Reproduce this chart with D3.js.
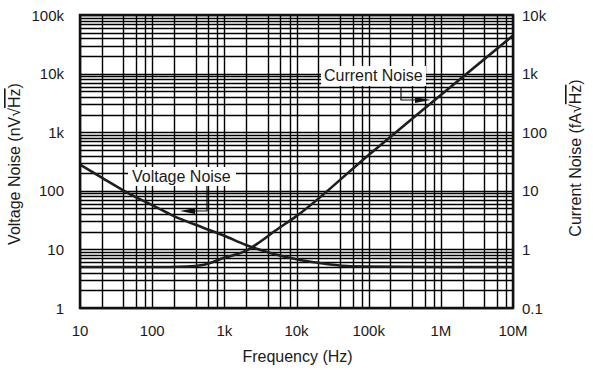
<!DOCTYPE html>
<html lang="en">
<head>
<meta charset="utf-8">
<title>Noise vs Frequency</title>
<script src="https://cdn.jsdelivr.net/npm/d3@7/dist/d3.min.js"></script>
<style>
  body { margin: 0; background: #fff; }
  text { font-family: "Liberation Sans", Arial, sans-serif; fill: #1a1a1a; }
  .grid line { stroke: #000; stroke-width: 1.4; }
  .tick-label { font-size: 15px; }
  .title { font-size: 16px; }
  .note { font-size: 16px; }
</style>
</head>
<body>
<script>
// frequencies (Hz) and values
var vFreq = [10, 20, 50, 100, 200, 500, 1e3, 2e3, 5e3, 1e4, 2e4, 5e4, 1e5, 1e6, 1e7];
var voltageNoise = [280, 168, 87, 57, 37, 23.7, 17.1, 11.9, 8.3, 6.8, 5.9, 5.2, 5.1, 5, 5]; // nV/rtHz
var iFreq = [10, 100, 300, 500, 1e3, 2e3, 3e3, 5e3, 1e4, 1e5, 1e6, 1e7];
var currentNoise = [0.5, 0.5, 0.51, 0.54, 0.72, 0.95, 1.3, 2.06, 3.7, 41, 430, 4460]; // fA/rtHz

var xTicks = [10, 100, 1e3, 1e4, 1e5, 1e6, 1e7];
var xTickLabels = ["10", "100", "1k", "10k", "100k", "1M", "10M"];
var yLeftTicks = [1, 10, 100, 1e3, 1e4, 1e5];
var yLeftLabels = ["1", "10", "100", "1k", "10k", "100k"];
var yRightTicks = [0.1, 1, 10, 100, 1e3, 1e4];
var yRightLabels = ["0.1", "1", "10", "100", "1k", "10k"];

var w = 593, h = 370;
var pLeft = 80, pRight = 513, pTop = 15, pBottom = 308;

var x = d3.scaleLog().domain([10, 1e7]).range([pLeft, pRight]);
var yL = d3.scaleLog().domain([1, 1e5]).range([pBottom, pTop]);
var yR = d3.scaleLog().domain([0.1, 1e4]).range([pBottom, pTop]);

var svg = d3.select("body").append("svg")
  .attr("width", w)
  .attr("height", h);

// grid: verticals at 1,2,4,6,8 per decade, horizontals at 1..9
var xGrid = [];
xTicks.forEach(function(d) {
  [1, 2, 4, 6, 8].forEach(function(m) { if (d * m <= 1e7) xGrid.push(d * m); });
});
var yGrid = [];
yLeftTicks.forEach(function(d) {
  for (var m = 1; m <= 9; m++) if (d * m <= 1e5) yGrid.push(d * m);
});

var grid = svg.append("g").attr("class", "grid");
grid.selectAll(".vx").data(xGrid).enter().append("line")
  .attr("x1", function(d) { return Math.round(x(d)) + 0.5; })
  .attr("x2", function(d) { return Math.round(x(d)) + 0.5; })
  .attr("y1", pTop).attr("y2", pBottom);
grid.selectAll(".hy").data(yGrid).enter().append("line")
  .attr("y1", function(d) { return Math.round(yL(d)) + 0.5; })
  .attr("y2", function(d) { return Math.round(yL(d)) + 0.5; })
  .attr("x1", pLeft).attr("x2", pRight);

// annotation boxes (white behind labels)
var notes = [
  { text: "Voltage Noise", tx: 132, ty: 182, box: [128, 167, 108, 19],
    lead: [[207, 186], [207, 211], [195, 211]], tipF: 243 },
  { text: "Current Noise", tx: 324, ty: 81, box: [321, 66, 105, 20],
    lead: [[401, 87], [401, 100], [415, 100]], tipF: 7.2e5 }
];
svg.selectAll(".nbox").data(notes).enter().append("rect")
  .attr("x", function(d) { return d.box[0]; })
  .attr("y", function(d) { return d.box[1]; })
  .attr("width", function(d) { return d.box[2]; })
  .attr("height", function(d) { return d.box[3]; })
  .attr("fill", "#fff");

// curves
var line = d3.line().curve(d3.curveMonotoneX);
svg.append("path")
  .attr("d", line(vFreq.map(function(f, i) { return [x(f), yL(voltageNoise[i])]; })))
  .attr("fill", "none").attr("stroke", "#1e1e1e").attr("stroke-width", 2.6);
svg.append("path")
  .attr("d", line(iFreq.map(function(f, i) { return [x(f), yR(currentNoise[i])]; })))
  .attr("fill", "none").attr("stroke", "#1e1e1e").attr("stroke-width", 2.6);

// frame
svg.append("rect")
  .attr("x", pLeft).attr("y", pTop)
  .attr("width", pRight - pLeft).attr("height", pBottom - pTop)
  .attr("fill", "none").attr("stroke", "#111").attr("stroke-width", 2.5);

// annotation text, leaders, arrows
svg.selectAll(".ntext").data(notes).enter().append("text")
  .attr("class", "note")
  .attr("x", function(d) { return d.tx; })
  .attr("y", function(d) { return d.ty; })
  .text(function(d) { return d.text; });
svg.selectAll(".nlead").data(notes).enter().append("polyline")
  .attr("points", function(d) { return d.lead.map(function(p) { return p.join(","); }).join(" "); })
  .attr("fill", "none").attr("stroke", "#111").attr("stroke-width", 1.2);
svg.selectAll(".narrow").data(notes).enter().append("path")
  .attr("d", function(d) {
    var end = d.lead[d.lead.length - 1];
    var tx = x(d.tipF);
    return "M" + end[0] + "," + (end[1] - 3) + "L" + tx + "," + end[1] + "L" + end[0] + "," + (end[1] + 3) + "Z";
  })
  .attr("fill", "#111");

// tick labels
svg.selectAll(".xl").data(xTicks).enter().append("text")
  .attr("class", "tick-label")
  .attr("x", function(d) { return x(d); })
  .attr("y", 330)
  .attr("text-anchor", "middle")
  .attr("dominant-baseline", "central")
  .text(function(d, i) { return xTickLabels[i]; });
svg.selectAll(".yl").data(yLeftTicks).enter().append("text")
  .attr("class", "tick-label")
  .attr("x", 64)
  .attr("y", function(d) { return yL(d); })
  .attr("text-anchor", "end")
  .attr("dominant-baseline", "central")
  .text(function(d, i) { return yLeftLabels[i]; });
svg.selectAll(".yr").data(yRightTicks).enter().append("text")
  .attr("class", "tick-label")
  .attr("x", 522)
  .attr("y", function(d) { return yR(d); })
  .attr("text-anchor", "start")
  .attr("dominant-baseline", "central")
  .text(function(d, i) { return yRightLabels[i]; });

// axis titles
svg.append("text")
  .attr("class", "title")
  .attr("x", (pLeft + pRight) / 2 + 1)
  .attr("y", 356)
  .attr("text-anchor", "middle")
  .attr("dominant-baseline", "central")
  .text("Frequency (Hz)");

var lt = svg.append("text")
  .attr("class", "title")
  .attr("transform", "translate(14,164) rotate(-90)")
  .attr("text-anchor", "middle")
  .attr("dominant-baseline", "central");
lt.append("tspan").text("Voltage Noise (nV√");
lt.append("tspan").attr("text-decoration", "overline").text("Hz");
lt.append("tspan").text(")");

var rt = svg.append("text")
  .attr("class", "title")
  .attr("transform", "translate(575,158) rotate(-90)")
  .attr("text-anchor", "middle")
  .attr("dominant-baseline", "central");
rt.append("tspan").text("Current Noise (fA√");
rt.append("tspan").attr("text-decoration", "overline").text("Hz");
rt.append("tspan").text(")");
</script>
</body>
</html>
